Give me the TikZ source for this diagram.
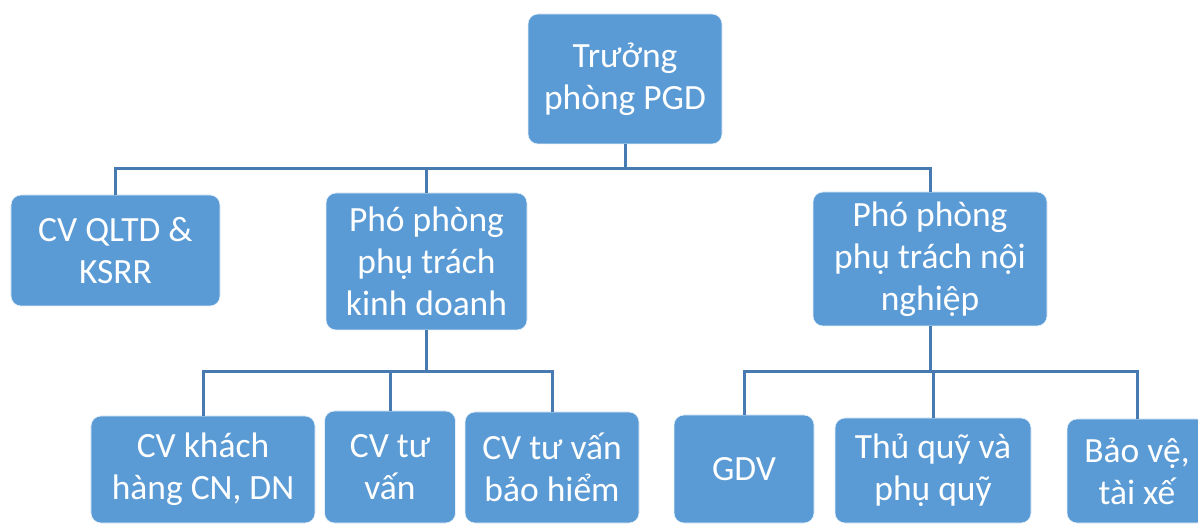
\documentclass[tikz,border=0pt]{standalone}
\usepackage{fontspec}
\setmainfont{Carlito}
\definecolor{boxblue}{RGB}{91,155,213}
\definecolor{lineblue}{RGB}{72,122,178}
\begin{document}
\begin{tikzpicture}[x=1bp,y=-1bp,
  box/.style={draw=white!85!boxblue, line width=0.6bp, fill=boxblue, rounded corners=10bp, inner sep=0pt,
    align=center, text=white, font=\fontsize{35.6}{42.4}\selectfont},
  conn/.style={draw=lineblue, line width=3bp}]
\useasboundingbox (0,0) rectangle (1198,525);
\clip (0,0) rectangle (1198,525);
\node[box, minimum width=194bp, minimum height=130bp] (top) at (625,79) {Trưởng\\phòng PGD};
\node[box, minimum width=209bp, minimum height=111bp] (qltd) at (115.5,250.5) {CV QLTD \&\\KSRR};
\node[box, minimum width=201bp, minimum height=137bp] (kd) at (426.5,261.5) {Phó phòng\\phụ trách\\kinh doanh};
\node[box, minimum width=234bp, minimum height=134bp] (nn) at (930,259) {Phó phòng\\phụ trách nội\\nghiệp};
\node[box, minimum width=224bp, minimum height=107bp] (kh) at (203,469.5) {CV khách\\hàng CN, DN};
\node[box, minimum width=131bp, minimum height=112bp] (tv) at (390,467) {CV tư\\vấn};
\node[box, minimum width=174bp, minimum height=111bp] (bh) at (552,467.5) {CV tư vấn\\bảo hiểm};
\node[box, minimum width=140bp, minimum height=108bp] (gdv) at (744,469) {GDV};
\node[box, minimum width=196bp, minimum height=105bp] (tq) at (933,470.5) {Thủ quỹ và\\phụ quỹ};
\node[box, minimum width=140bp, minimum height=104bp] (bv) at (1137,471) {Bảo vệ,\\tài xế};
\coordinate (bus1) at (625,169);
\coordinate (bus2) at (426.5,372);
\coordinate (bus3) at (930,372);
\draw[conn] (top.south) -- (bus1);
\draw[conn] (qltd.north) |- (bus1) -| (nn.north);
\draw[conn] (kd.north) -- (kd.north |- bus1);
\draw[conn] (kd.south) -- (bus2);
\draw[conn] (kh.north) |- (bus2) -| (bh.north);
\draw[conn] (tv.north) -- (tv.north |- bus2);
\draw[conn] (nn.south) -- (bus3);
\draw[conn] (gdv.north) |- (bus3) -| (bv.north);
\draw[conn] (tq.north) -- (tq.north |- bus3);
\end{tikzpicture}
\end{document}
